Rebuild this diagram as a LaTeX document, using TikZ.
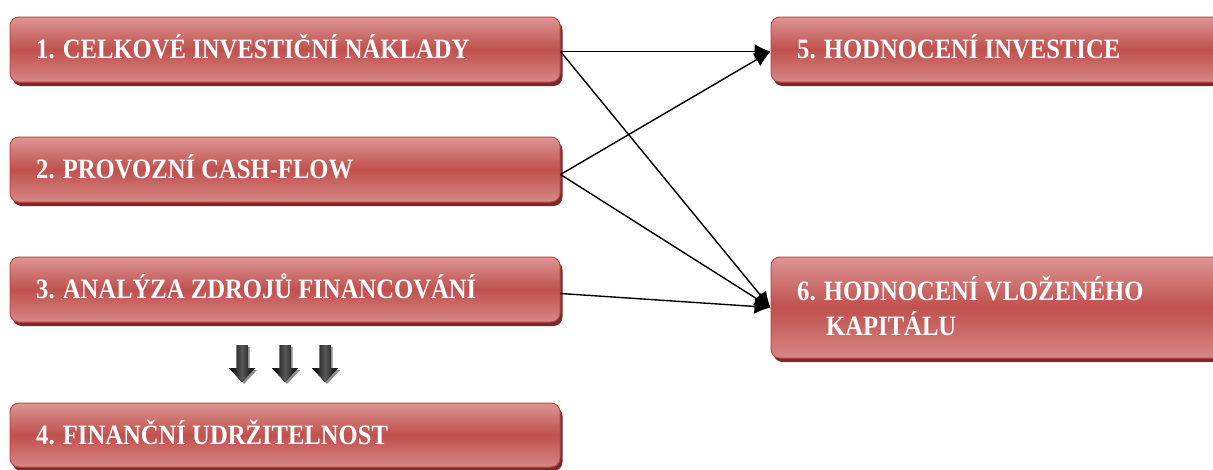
\documentclass[tikz,border=0pt]{standalone}
\usepackage{fontspec}
\setmainfont{Liberation Serif}
\usetikzlibrary{arrows.meta,shadows,calc}
\definecolor{boxtop}{HTML}{DB9695}
\definecolor{boxmid}{HTML}{C0504D}
\definecolor{boxbot}{HTML}{D68886}
\definecolor{boxedge}{HTML}{BF4A47}
\definecolor{boxshade}{HTML}{7A2B29}
\newcommand{\boxlabel}[1]{\scalebox{0.88}[1]{#1}}
\tikzset{
  panel/.style={rectangle, rounded corners=9pt, draw=boxedge, line width=1pt,
    top color=boxtop, bottom color=boxbot, middle color=boxmid,
    general shadow={shadow xshift=2.5pt, shadow yshift=-4pt, fill=boxshade},
    inner sep=0pt, minimum width=#1},
  panel/.default=550pt,
  caption/.style={anchor=base west, inner sep=0pt, text=white,
    font=\fontsize{28}{34}\selectfont\bfseries},
  link/.style={line width=1.4pt, -{Latex[length=16pt,width=15pt]}},
  downarrow/.style={fill=black, left color=black, right color=black, middle color=gray!70!black,
    general shadow={shadow xshift=2pt, shadow yshift=-2pt, fill=black!45}}
}
\begin{document}
\begin{tikzpicture}[x=1pt,y=-1pt]
\useasboundingbox (0,0) rectangle (1213,469);
\clip (0,0) rectangle (1213,469);

% left column of steps
\node[panel, minimum height=65pt] (b1) at (285,49.5) {};
\node[panel, minimum height=65pt] (b2) at (285,169.5) {};
\node[panel, minimum height=65pt] (b3) at (285,289.5) {};
\node[panel, minimum height=64pt] (b4) at (285,435) {};

% right column of evaluations
\node[panel=520pt, minimum height=65pt] (b5) at (1031,49.5) {};
\node[panel=520pt, minimum height=101pt] (b6) at (1031,307.5) {};

% box texts
\node[caption] (t1) at (36,58) {\boxlabel{1. CELKOVÉ INVESTIČNÍ NÁKLADY}};
\node[caption] (t2) at (36,178) {\boxlabel{2. PROVOZNÍ CASH-FLOW}};
\node[caption] (t3) at (36,298) {\boxlabel{3. ANALÝZA ZDROJŮ FINANCOVÁNÍ}};
\node[caption] (t4) at (36,444) {\boxlabel{4. FINANČNÍ UDRŽITELNOST}};
\node[caption] (t5) at (797,58) {\boxlabel{5. HODNOCENÍ INVESTICE}};
\node[caption] (t6a) at (797,300) {\boxlabel{6. HODNOCENÍ VLOŽENÉHO}};
\node[caption] (t6b) at (826,335) {\boxlabel{KAPITÁLU}};

% connectors
\coordinate (e1) at ($(b1.east)+(0,2)$);
\coordinate (e2) at ($(b2.east)+(0,5)$);
\coordinate (e3) at ($(b3.east)+(0,4)$);
\coordinate (w5) at ($(b5.west)+(0,2)$);
\coordinate (w6) at ($(b6.west)+(0,0)$);
\draw[link] (e1) -- (w5);
\draw[link] (e1) -- (w6);
\draw[link] (e2) -- (w5);
\draw[link] (e2) -- (w6);
\draw[link] (e3) -- (w6);

% block arrows between steps 3 and 4
\foreach \cx/\nm in {242/d1, 285/d2, 325/d3}{
  \path[downarrow] (\cx-5.5,345) -- (\cx+5.5,345) -- (\cx+5.5,368) -- (\cx+13,368)
     -- (\cx,382) -- (\cx-13,368) -- (\cx-5.5,368) -- cycle;
}
\end{tikzpicture}
\end{document}
